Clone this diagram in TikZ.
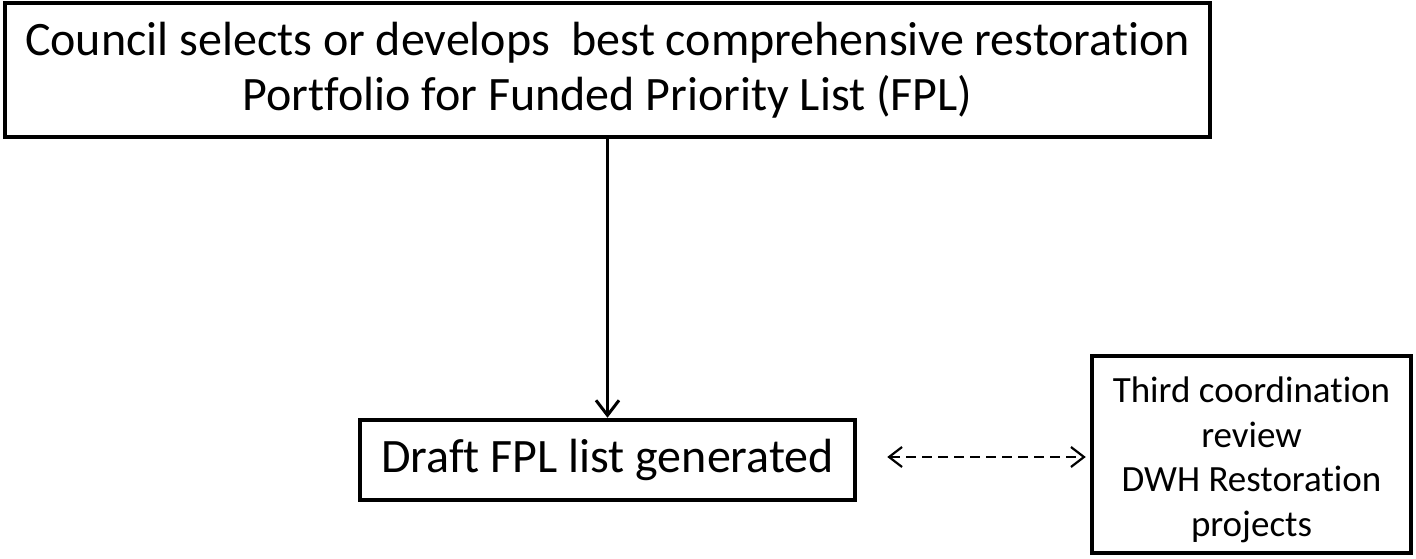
\documentclass[tikz,border=0pt]{standalone}
\usepackage{fontspec}
\setmainfont{Carlito}[Ligatures=NoCommon]
\usetikzlibrary{arrows.meta,calc}
\begin{document}
\begin{tikzpicture}[x=1pt,y=-1pt,
  boxnode/.style={draw=black,line width=4.5pt,align=center,inner sep=0pt},
  conn/.style={line width=3pt,-{Straight Barb[length=15pt,width=23pt,line width=3pt]}},
  dconn/.style={line width=2.2pt,dash pattern=on 10pt off 6pt,{Straight Barb[length=13pt,width=20pt,line width=2.2pt]}-{Straight Barb[length=13pt,width=20pt,line width=2.2pt]}}]
\useasboundingbox (0,0) rectangle (1416,559);
\node[boxnode,minimum width=1205pt,minimum height=134pt,font=\fontsize{48}{55}\selectfont] (top) at (607.5,70)
  {Council selects or develops \ best comprehensive restoration\\Portfolio for Funded Priority List (FPL)};
\node[boxnode,minimum width=495pt,minimum height=80pt,font=\fontsize{48}{55}\selectfont] (draft) at (607.5,460)
  {Draft FPL list generated};
\node[boxnode,minimum width=319pt,minimum height=197pt,font=\fontsize{37}{44.5}\selectfont] (third) at (1251.5,454.5)
  {\rule{0pt}{36pt}Third coordination\\review\\DWH Restoration\\projects};
\draw[conn] (top.south -| draft.north) -- (draft.north);
\coordinate (dl) at ($(draft.east)+(30,-3)$);
\coordinate (dr) at ($(third.west |- dl)+(-4,0)$);
\draw[dconn] (dl) -- (dr);
\end{tikzpicture}
\end{document}
